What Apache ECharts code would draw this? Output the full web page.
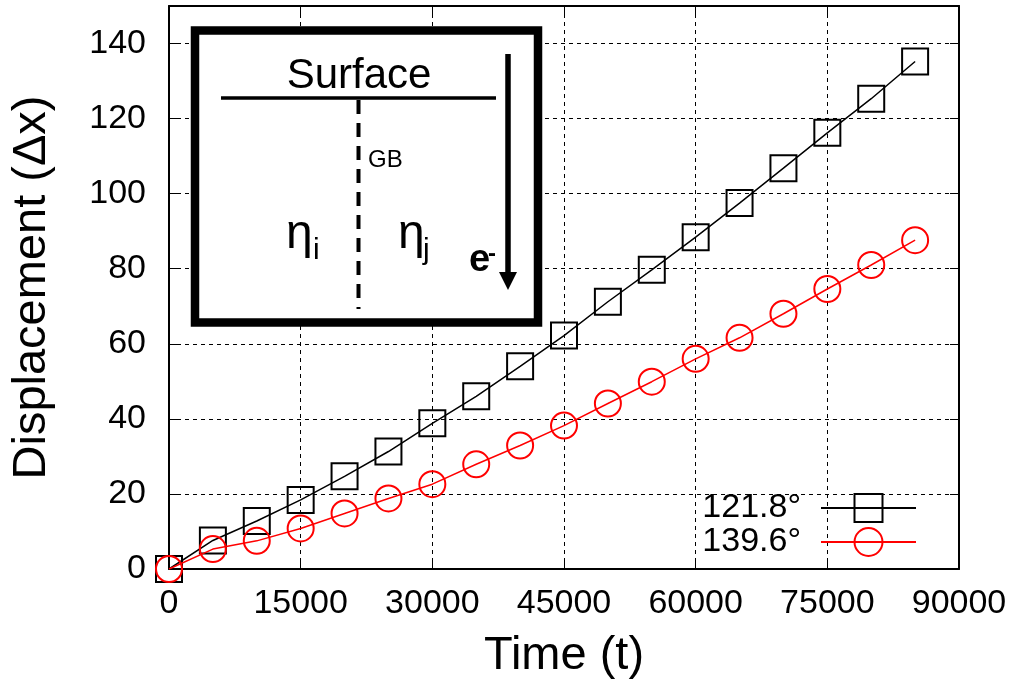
<!DOCTYPE html>
<html>
<head>
<meta charset="utf-8">
<script src="https://cdn.jsdelivr.net/npm/echarts@6/dist/echarts.min.js"></script>
<style>
  html, body { margin: 0; padding: 0; background: #fff; }
  #chart { width: 1018px; height: 685px; }
</style>
</head>
<body>
<div id="chart"></div>
<script>
// Simulation time steps (t)
const times = [0, 5000, 10000, 15000, 20000, 25000, 30000, 35000, 40000, 45000,
               50000, 55000, 60000, 65000, 70000, 75000, 80000, 85000];
// Displacement (Δx) for each misorientation angle
const disp1218 = [0, 7.6, 12.8, 18.4, 24.7, 31.3, 38.8, 46.0, 54.0, 62.2,
                  71.2, 79.7, 88.4, 97.5, 106.8, 116.2, 125.3, 135.2];
const disp1396 = [0, 5.3, 7.5, 10.8, 14.8, 18.8, 22.6, 27.9, 32.9, 38.2,
                  44.1, 49.9, 56.0, 61.6, 68.0, 74.6, 81.0, 87.6];
const seriesNames = ['121.8°', '139.6°'];
const xTicks = { min: 0, max: 90000, step: 15000 };
const yTicks = { min: 0, max: 150, step: 20 };

const FONT = 'Liberation Sans, Arial, Helvetica, sans-serif';
const chart = echarts.init(document.getElementById('chart'));

const pairs = (ys) => times.map((t, i) => [t, ys[i]]);

const gridDash = { show: true, lineStyle: { color: '#000', width: 1, type: [4, 4] } };
const frameLine = { show: true, onZero: false, lineStyle: { color: '#000', width: 2 } };
const innerTick = { show: true, inside: true, length: 9, lineStyle: { color: '#000', width: 1 } };

function textEl(x, y, text, size, opts) {
  return {
    type: 'text', x: x, y: y, z: 100,
    style: Object.assign({
      text: text, fill: '#000', font: size + 'px ' + FONT,
      textAlign: 'left', textVerticalAlign: 'middle'
    }, opts || {})
  };
}

const option = {
  backgroundColor: '#fff',
  animation: false,
  textStyle: { fontFamily: FONT },
  grid: { left: 169, right: 59, top: 6, bottom: 116, containLabel: false },
  xAxis: [
    {
      type: 'value', min: xTicks.min, max: xTicks.max, interval: xTicks.step,
      name: 'Time (t)', nameLocation: 'middle', nameGap: 64,
      nameTextStyle: { fontSize: 47, color: '#000', fontFamily: FONT },
      axisLine: frameLine, axisTick: innerTick, splitLine: gridDash,
      axisLabel: {
        fontSize: 34, color: '#000', margin: 18, fontFamily: FONT,
        formatter: (v) => String(v)
      }
    },
    {
      type: 'value', position: 'top', min: xTicks.min, max: xTicks.max, interval: xTicks.step,
      axisLine: frameLine, axisTick: innerTick, splitLine: { show: false },
      axisLabel: { show: false }
    }
  ],
  yAxis: [
    {
      type: 'value', min: yTicks.min, max: yTicks.max, interval: yTicks.step,
      name: 'Displacement (Δx)', nameLocation: 'middle', nameGap: 113,
      nameTextStyle: { fontSize: 47, color: '#000', fontFamily: FONT },
      axisLine: frameLine, axisTick: innerTick, splitLine: gridDash,
      axisLabel: {
        fontSize: 34, color: '#000', margin: 23, fontFamily: FONT,
        showMaxLabel: false, formatter: (v) => String(v)
      }
    },
    {
      type: 'value', position: 'right', min: yTicks.min, max: yTicks.max, interval: yTicks.step,
      axisLine: frameLine, axisTick: innerTick, splitLine: { show: false },
      axisLabel: { show: false }
    }
  ],
  legend: {
    data: seriesNames,
    orient: 'vertical',
    right: 96, top: 486,
    align: 'right',
    itemWidth: 95, itemHeight: 35, itemGap: 0,
    textStyle: { fontSize: 34, color: '#000', fontFamily: FONT, padding: [0, 15, 0, 0] }
  },
  series: [
    {
      name: seriesNames[0], type: 'line', data: pairs(disp1218),
      symbol: 'rect', symbolSize: 26,
      lineStyle: { color: '#000', width: 1.5 },
      itemStyle: { color: 'none', borderColor: '#000', borderWidth: 2 },
      z: 3
    },
    {
      name: seriesNames[1], type: 'line', data: pairs(disp1396),
      symbol: 'circle', symbolSize: 26,
      lineStyle: { color: '#ff0000', width: 1.5 },
      itemStyle: { color: 'none', borderColor: '#ff0000', borderWidth: 2 },
      z: 4
    }
  ],
  graphic: [
    // schematic inset: grain boundary below a free surface
    {
      type: 'rect', z: 100,
      shape: { x: 195, y: 30.5, width: 343, height: 292 },
      style: { fill: '#fff', stroke: '#000', lineWidth: 8.5 }
    },
    {
      type: 'line', z: 101,
      shape: { x1: 221, y1: 98, x2: 496, y2: 98 },
      style: { stroke: '#000', lineWidth: 3.5 }
    },
    {
      type: 'line', z: 101,
      shape: { x1: 358.5, y1: 100, x2: 358.5, y2: 309 },
      style: { stroke: '#000', lineWidth: 4, lineDash: [14, 9] }
    },
    textEl(359, 76.5, 'Surface', 42, { textAlign: 'center' }),
    textEl(368, 160.5, 'GB', 24),
    textEl(286, 234.5, 'η', 48),
    textEl(313, 250.5, 'i', 30),
    textEl(398, 234.5, 'η', 48),
    textEl(423, 250.5, 'j', 30),
    textEl(469, 261, 'e', 38, { font: 'bold 38px ' + FONT }),
    textEl(488, 254, '-', 24, { font: 'bold 24px ' + FONT }),
    {
      type: 'line', z: 101,
      shape: { x1: 508, y1: 54, x2: 508, y2: 275 },
      style: { stroke: '#000', lineWidth: 5.5 }
    },
    {
      type: 'polygon', z: 101,
      shape: { points: [[499, 272], [517, 272], [508, 290]] },
      style: { fill: '#000' }
    }
  ]
};

chart.setOption(option);
</script>
</body>
</html>
